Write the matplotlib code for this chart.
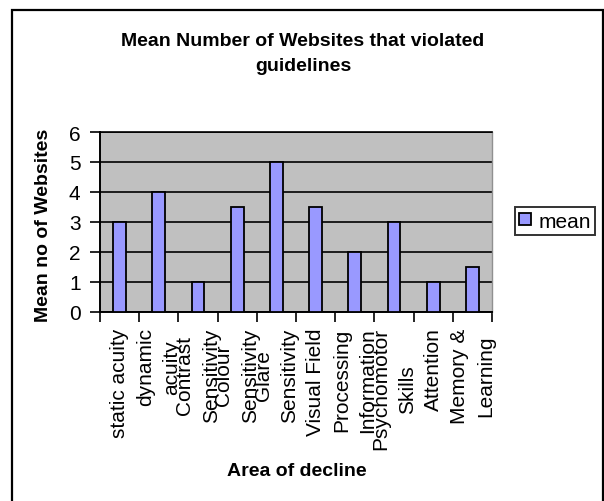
import matplotlib
matplotlib.use("Agg")
import matplotlib.pyplot as plt
from matplotlib.patches import Rectangle
import numpy as np

plt.rcParams['font.family'] = ['Liberation Sans', 'DejaVu Sans']

categories = ["static acuity", "dynamic\nacuity", "Contrast\nSensitivity", "Colour\nSensitivity",
              "Glare\nSensitivity", "Visual Field", "Processing\nInformation", "Psychomotor\nSkills",
              "Attention", "Memory &\nLearning"]
mean_values = [3, 4, 1, 3.5, 5, 3.5, 2, 3, 1, 1.5]
y_ticks = [0, 1, 2, 3, 4, 5, 6]
series_name = "mean"
title = "Mean Number of Websites that violated\nguidelines"
x_label = "Area of decline"
y_label = "Mean no of Websites"

W, H = 604, 502
fig = plt.figure(figsize=(W / 100, H / 100), dpi=100)
fig.patch.set_facecolor("white")

ax = fig.add_axes([100 / W, 1 - 313 / H, 392 / W, 180 / H])
ax.set_facecolor("#C0C0C0")

x = np.arange(len(categories))
ax.bar(x, mean_values, width=0.33, color="#9999FF", edgecolor="black", linewidth=1.3,
       label=series_name, zorder=3)

ax.set_xlim(-0.5, len(categories) - 0.5)
ax.set_ylim(0, 6)
ax.set_yticks(y_ticks)
ax.yaxis.grid(True, color="black", linewidth=1.2, zorder=1)
ax.set_axisbelow(True)

ax.set_xticks(x)
ax.set_xticklabels(categories, rotation=90, fontsize=15, va="top", ha="center",
                   multialignment="center", linespacing=1.5)
ax.tick_params(axis="x", which="major", length=0, pad=11)
ax.set_xticks(np.arange(len(categories) + 1) - 0.5, minor=True)
ax.tick_params(axis="x", which="minor", length=7, width=1.2, color="black", direction="out")
ax.tick_params(axis="y", length=7, width=1.2, direction="out", labelsize=15, pad=7)

for s in ["left", "bottom"]:
    ax.spines[s].set_color("black")
    ax.spines[s].set_linewidth(1.4)
ax.spines["top"].set_color("black")
ax.spines["top"].set_linewidth(1.2)
ax.spines["right"].set_color("#909090")
ax.spines["right"].set_linewidth(1.0)

fig.text(303 / W, 1 - 54 / H, title, ha="center", va="center", fontsize=14,
         fontweight="bold", linespacing=1.6)
fig.text(297 / W, 1 - 472 / H, x_label, ha="center", va="center", fontsize=14, fontweight="bold")
fig.text(44 / W, 1 - 225 / H, y_label, ha="center", va="center", rotation=90,
         fontsize=14, fontweight="bold")

leg = ax.legend(loc="center", bbox_to_anchor=(555 / W, 1 - 222 / H), bbox_transform=fig.transFigure,
                fontsize=15, frameon=True, fancybox=False, handlelength=0.55, handleheight=0.55,
                handletextpad=0.35, borderpad=0.2, borderaxespad=0)
leg.get_frame().set_edgecolor("black")
leg.get_frame().set_linewidth(1.4)
leg.get_frame().set_facecolor("white")

border = Rectangle((12 / W, -0.1), (603 - 12) / W, 1 - 11 / H + 0.1, transform=fig.transFigure,
                   fill=False, edgecolor="black", linewidth=1.6, clip_on=False)
fig.patches.append(border)

fig.savefig("out.png", dpi=100, facecolor="white")
